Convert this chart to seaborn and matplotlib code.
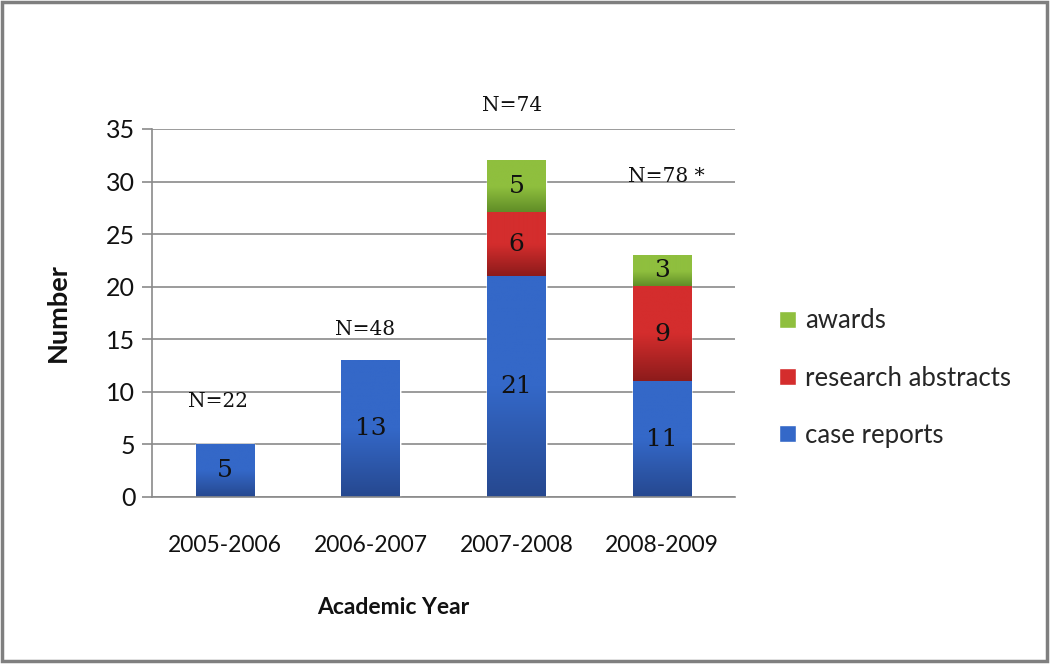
import numpy as np
import matplotlib
matplotlib.use("Agg")
import matplotlib.pyplot as plt
import seaborn as sns
from matplotlib.colors import LinearSegmentedColormap
from matplotlib.patches import Patch, Rectangle

years = ["2005-2006", "2006-2007", "2007-2008", "2008-2009"]
case_reports = [5, 13, 21, 11]
research_abstracts = [0, 0, 6, 9]
awards = [0, 0, 5, 3]
n_labels = ["N=22", "N=48", "N=74", "N=78 *"]

sns.set_theme(style="white")
plt.rcParams["font.family"] = ["Lato", "DejaVu Sans"]

case = np.array(case_reports)
mid = case + np.array(research_abstracts)
total = mid + np.array(awards)

fig = plt.figure(figsize=(10.5, 6.64), dpi=100)
ax = fig.add_axes([152 / 1050, 1 - 497 / 664, (735 - 152) / 1050, (497 - 129) / 664])

green = ("#8fbf3e", "#5e8b26")
red = ("#d42d2d", "#8c1b1b")
blue = ("#3468c8", "#26488f")

# stacked bars drawn tallest first
sns.barplot(x=years, y=total, color=green[0], width=0.4, ax=ax, saturation=1)
sns.barplot(x=years, y=mid, color=red[0], width=0.4, ax=ax, saturation=1)
sns.barplot(x=years, y=case, color=blue[0], width=0.4, ax=ax, saturation=1)

# gradient fill over each visible segment
layers = [(mid, total, green), (case, mid, red), (np.zeros_like(case), case, blue)]
grad = np.linspace(0, 1, 256).reshape(-1, 1)
for container, (lo, hi, cols) in zip(ax.containers, layers):
    cmap = LinearSegmentedColormap.from_list("g", [cols[1], cols[0], cols[0]])
    for i, bar in enumerate(container):
        if hi[i] - lo[i] <= 0:
            continue
        x0 = bar.get_x()
        ax.imshow(grad, cmap=cmap, aspect="auto", origin="lower",
                  extent=(x0, x0 + bar.get_width(), lo[i], hi[i]), zorder=2)
        ax.text(i, (lo[i] + hi[i]) / 2, str(hi[i] - lo[i]), ha="center", va="center",
                fontsize=18, family="DejaVu Serif", color="#111111", zorder=3)

n_pos = [(-0.05, 9.1), (-0.04, 15.9), (-0.03, 37.2), (0.03, 30.5)]
for i, (lab, (dx, yy)) in enumerate(zip(n_labels, n_pos)):
    ax.text(i + dx, yy, lab, ha="center", va="center", fontsize=14.5,
            family="DejaVu Serif", color="#111111", clip_on=False)

ax.set_xlim(-0.5, 3.5)
ax.set_ylim(0, 35)
ax.set_yticks(range(0, 36, 5))
ax.set_axisbelow(True)
ax.yaxis.grid(True, color="#8a8a8a", linewidth=1.2)
ax.xaxis.grid(False)
for s in ["top", "right"]:
    ax.spines[s].set_visible(False)
for s in ["left", "bottom"]:
    ax.spines[s].set_color("#8a8a8a")
    ax.spines[s].set_linewidth(1.2)

ax.set_xticks([-0.5, 0.5, 1.5, 2.5, 3.5], minor=True)
ax.tick_params(axis="x", which="major", length=0, pad=27, labelsize=16.5, labelcolor="#111111")
ax.tick_params(axis="x", which="minor", length=6, color="#8a8a8a", width=1.2, direction="out")
ax.tick_params(axis="y", length=7, color="#8a8a8a", width=1.2, direction="out",
               pad=5, labelsize=18, labelcolor="#111111", left=True)
ax.set_xlabel("")
ax.set_ylabel("")

fig.text(393 / 1050, 1 - 608 / 664, "Academic Year", ha="center", va="center",
         fontsize=16.5, fontweight="bold", color="#111111")
fig.text(58 / 1050, 1 - 313 / 664, "Number", ha="center", va="center", rotation=90,
         fontsize=19.5, fontweight="bold", color="#111111")

handles = [Patch(facecolor=green[0]), Patch(facecolor=red[0]), Patch(facecolor=blue[0])]
fig.legend(handles, ["awards", "research abstracts", "case reports"],
           loc="center left", bbox_to_anchor=(779 / 1050, 1 - 378 / 664),
           frameon=False, fontsize=18.5, handlelength=0.65, handleheight=0.65,
           handletextpad=0.35, labelspacing=1.25, borderpad=0, borderaxespad=0)

fig.patches.append(Rectangle((0.002, 0.004), 0.995, 0.993, transform=fig.transFigure,
                             fill=False, edgecolor="#7f7f7f", linewidth=2.5))

fig.savefig("out.png", dpi=100)
